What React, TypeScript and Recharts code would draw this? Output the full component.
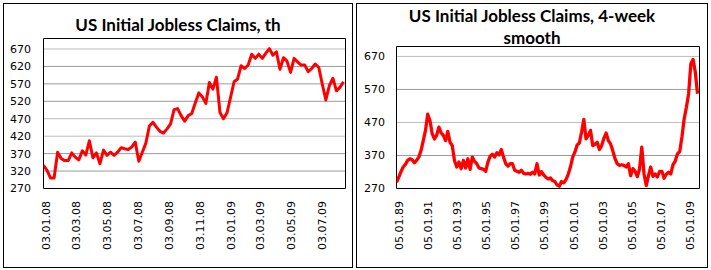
import React from "react";
import { CartesianGrid, Line, LineChart, ReferenceArea, XAxis, YAxis } from "recharts";

// weekly initial claims, th (weeks ending 29.12.07 .. 15.08.09)
const weeklyStart = "29.12.07";
const weeklyEnd = "19.08.09";
const weeklyClaims = [
  336, 322, 300, 300, 374, 356, 350, 350, 372, 360, 352, 378, 366, 407, 358, 372, 341, 380, 365, 374,
  365, 374, 387, 384, 382, 389, 403, 348, 374, 400, 449, 460, 446, 434, 429, 441, 455, 496, 499, 479,
  463, 479, 485, 515, 544, 533, 514, 574, 555, 589, 488, 470, 487, 531, 576, 584, 622, 614, 624, 655,
  643, 655, 643, 658, 671, 652, 662, 612, 645, 635, 603, 643, 633, 624, 624, 605, 614, 627, 617, 569,
  524, 565, 586, 550, 560, 576,
];
const weeklyTicks = [
  "03.01.08", "03.03.08", "03.05.08", "03.07.08", "03.09.08",
  "03.11.08", "03.01.09", "03.03.09", "03.05.09", "03.07.09",
];

// 4-week smooth, read every 8 weeks from 03.11.88
const smoothStart = "03.11.88";
const smoothEnd = "03.09.09";
const smoothStepDays = 56;
const smoothClaims = [
  289, 304, 321, 335, 343, 355, 360, 357, 348, 355, 365, 385, 415, 446, 495, 476, 436, 420, 431, 456,
  439, 431, 415, 443, 410, 400, 355, 335, 350, 330, 355, 332, 360, 328, 365, 352, 345, 332, 330, 328,
  322, 350, 368, 374, 365, 378, 372, 388, 365, 345, 338, 345, 345, 325, 322, 319, 325, 316, 314, 316,
  313, 319, 314, 345, 311, 321, 311, 304, 299, 302, 294, 291, 281, 277, 291, 287, 297, 313, 335, 365,
  380, 402, 408, 441, 479, 420, 431, 446, 400, 404, 410, 388, 400, 422, 438, 415, 405, 384, 360, 345,
  340, 342, 340, 335, 345, 309, 330, 322, 306, 330, 395, 314, 279, 309, 335, 307, 314, 305, 322, 322,
  301, 313, 319, 314, 342, 353, 375, 382, 426, 481, 516, 557, 648, 661, 622, 557,
];
const smoothTicks = [
  "05.01.89", "05.01.91", "05.01.93", "05.01.95", "05.01.97", "05.01.99",
  "05.01.01", "05.01.03", "05.01.05", "05.01.07", "05.01.09",
];

const yDomain: [number, number] = [270, 700];
const leftYTicks = [270, 320, 370, 420, 470, 520, 570, 620, 670];
const leftSolidGrid = [320, 370, 520, 570, 620];
const leftDottedGrid = [420, 470, 670];
const rightYTicks = [270, 370, 470, 570, 670];
const rightSolidGrid = [370, 570];
const rightDottedGrid = [470, 670];

const DAY = 86400000;
const toDay = (s: string) => {
  const [d, m, y] = s.split(".").map(Number);
  const year = y < 50 ? 2000 + y : 1900 + y;
  return Math.round(Date.UTC(year, m - 1, d) / DAY);
};

const weeklyData = weeklyClaims.map((v, i) => ({ day: toDay(weeklyStart) + i * 7, v }));
const smoothData = smoothClaims.map((v, i) => ({ day: toDay(smoothStart) + i * smoothStepDays, v }));

const font = "'DejaVu Sans', Verdana, sans-serif";
const titleFont = "Lato, 'Open Sans', sans-serif";

function makeTick(labels: string[]) {
  const byDay = new Map(labels.map((l) => [toDay(l), l]));
  return (props: any) => {
    const { x, y, payload } = props;
    return (
      <text
        x={x}
        y={y}
        dy={4}
        transform={`rotate(-90 ${x} ${y})`}
        textAnchor="end"
        fontSize={11}
        fontFamily={font}
        fill="#000"
      >
        {byDay.get(payload.value) ?? ""}
      </text>
    );
  };
}

type PanelProps = {
  data: { day: number; v: number }[];
  start: string;
  end: string;
  ticks: string[];
  yTicks: number[];
  solid: number[];
  dotted: number[];
  width: number;
  margin: { top: number; right: number; left: number; bottom: number };
  yWidth: number;
  yGap: number;
  lineWidth: number;
};

function Chart(p: PanelProps) {
  const x0 = toDay(p.start);
  const x1 = toDay(p.end);
  return (
    <LineChart width={p.width} height={270} data={p.data} margin={p.margin}>
      <CartesianGrid vertical={false} horizontalValues={p.solid} stroke="#9a9a9a" />
      <CartesianGrid vertical={false} horizontalValues={p.dotted} stroke="#7a7a7a" strokeDasharray="1 1" />
      <XAxis
        dataKey="day"
        type="number"
        domain={[x0, x1]}
        ticks={p.ticks.map(toDay)}
        interval={0}
        axisLine={false}
        tickLine={false}
        tickSize={0}
        tickMargin={12.5}
        height={60}
        tick={makeTick(p.ticks)}
        allowDataOverflow
      />
      <YAxis
        type="number"
        domain={yDomain}
        ticks={p.yTicks}
        interval={0}
        axisLine={false}
        tickLine={false}
        tickSize={0}
        tickMargin={p.yGap}
        width={p.yWidth}
        tick={{ fill: "#000", fontSize: 11, fontFamily: font }}
        allowDataOverflow
      />
      <Line
        type="linear"
        dataKey="v"
        stroke="#ff0000"
        strokeWidth={p.lineWidth}
        strokeLinejoin="round"
        dot={false}
        activeDot={false}
        isAnimationActive={false}
      />
      <ReferenceArea x1={x0} x2={x1} y1={yDomain[0]} y2={yDomain[1]} fill="none" stroke="#000" strokeWidth={1} />
    </LineChart>
  );
}

const box: React.CSSProperties = {
  position: "absolute",
  top: 3,
  height: 265,
  border: "1px solid #000",
  boxSizing: "border-box",
};

const title: React.CSSProperties = {
  position: "absolute",
  textAlign: "center",
  fontFamily: titleFont,
  fontWeight: 700,
  fontSize: 17,
  color: "#000",
  whiteSpace: "nowrap",
};

export default function App() {
  return (
    <div style={{ position: "absolute", left: 0, top: 0, width: 711, height: 270, background: "#fff", overflow: "hidden" }}>
      <div style={{ ...box, left: 3, width: 350 }} />
      <div style={{ ...box, left: 356, width: 352 }} />
      <div style={{ ...title, left: 3, width: 350, top: 15, lineHeight: "20px" }}>US Initial Jobless Claims, th</div>
      <div style={{ ...title, left: 356, width: 352, top: 5.3, lineHeight: "21.6px" }}>
        <div>US Initial Jobless Claims, 4-week</div>
        <div>smooth</div>
      </div>
      <div style={{ position: "absolute", left: 0, top: 0 }}>
        <Chart
          data={weeklyData}
          start={weeklyStart}
          end={weeklyEnd}
          ticks={weeklyTicks}
          yTicks={leftYTicks}
          solid={leftSolidGrid}
          dotted={leftDottedGrid}
          width={355}
          margin={{ top: 38.5, right: 9.5, left: 0, bottom: 21.5 }}
          yWidth={43.5}
          yGap={12.5}
          lineWidth={3}
        />
      </div>
      <div style={{ position: "absolute", left: 355, top: 0 }}>
        <Chart
          data={smoothData}
          start={smoothStart}
          end={smoothEnd}
          ticks={smoothTicks}
          yTicks={rightYTicks}
          solid={rightSolidGrid}
          dotted={rightDottedGrid}
          width={356}
          margin={{ top: 46.5, right: 11.5, left: 0, bottom: 21.5 }}
          yWidth={41.5}
          yGap={11.5}
          lineWidth={3.3}
        />
      </div>
    </div>
  );
}
